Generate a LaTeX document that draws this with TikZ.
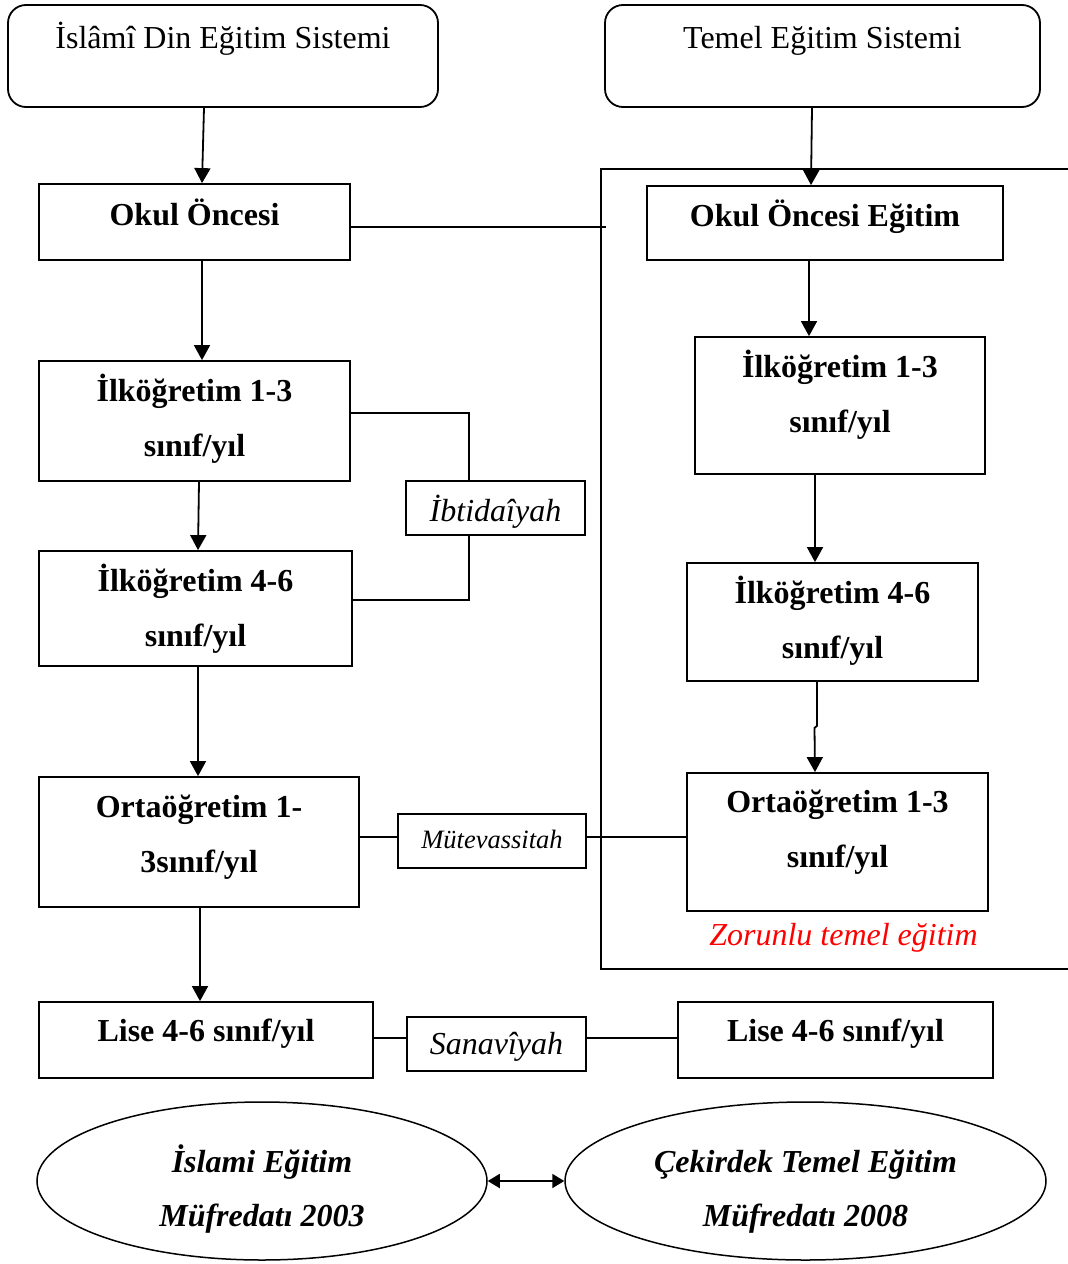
\documentclass[tikz,border=0pt]{standalone}
\usepackage{fontspec}
\setmainfont{Liberation Serif}
\usetikzlibrary{arrows.meta,shapes.geometric}
\newcommand{\twoln}[2]{\begin{tabular}[t]{@{}c@{}}#1\\#2\end{tabular}}
\begin{document}
\begin{tikzpicture}[x=1pt,y=-1pt,
  bx/.style={draw,line width=1.8pt,inner sep=0pt},
  rbx/.style={bx,rounded corners=18pt},
  ell/.style={draw,ellipse,line width=1.5pt,inner sep=0pt},
  bt/.style={font=\fontsize{32}{55}\selectfont\bfseries,anchor=base,inner sep=0pt},
  rt/.style={font=\fontsize{32}{55}\selectfont,anchor=base,inner sep=0pt},
  it/.style={font=\fontsize{32}{55}\selectfont\itshape,anchor=base,inner sep=0pt},
  bit/.style={font=\fontsize{32}{54}\selectfont\bfseries\itshape,anchor=base,inner sep=0pt},
  ln/.style={line width=1.8pt},
  arr/.style={ln,-{Triangle[length=15pt,width=16pt]}},
  darr/.style={ln,{Triangle[length=12pt,width=14pt]}-{Triangle[length=12pt,width=14pt]}}
]
\useasboundingbox (0,0) rectangle (1068,1264);

% frame of compulsory education
\draw[ln] (1069,169) -- (601,169) -- (601,969) -- (1069,969);
\coordinate (fr) at (606,227);

% left column
\node[rbx,minimum width=430pt,minimum height=102pt] (A) at (223,56) {};
\node[rt] (At) at ([yshift=-44pt]A.north) {İslâmî Din Eğitim Sistemi};
\node[bx,minimum width=311pt,minimum height=76pt] (B) at (194.5,222) {};
\node[bt] (Bt) at ([yshift=-42pt]B.north) {Okul Öncesi};
\node[bx,minimum width=311pt,minimum height=120pt] (C) at (194.5,421) {};
\node[bt] (Ct) at ([yshift=-41pt]C.north) {\twoln{İlköğretim 1-3}{sınıf/yıl}};
\node[bx,minimum width=313pt,minimum height=115pt] (D) at (195.5,608.5) {};
\node[bt] (Dt) at ([yshift=-41pt]D.north) {\twoln{İlköğretim 4-6}{sınıf/yıl}};
\node[bx,minimum width=320pt,minimum height=130pt] (E) at (199,842) {};
\node[bt] (Et) at ([yshift=-41pt]E.north) {\twoln{Ortaöğretim 1-}{3sınıf/yıl}};
\node[bx,minimum width=334pt,minimum height=76pt] (F) at (206,1040) {};
\node[bt] (Ft) at ([yshift=-40pt]F.north) {Lise 4-6 sınıf/yıl};

% right column
\node[rbx,minimum width=435pt,minimum height=102pt] (G) at (822.5,56) {};
\node[rt] (Gt) at ([yshift=-44pt]G.north) {Temel Eğitim Sistemi};
\node[bx,minimum width=356pt,minimum height=74pt] (H) at (825,223) {};
\node[bt] (Ht) at ([yshift=-41pt]H.north) {Okul Öncesi Eğitim};
\node[bx,minimum width=290pt,minimum height=137pt] (I) at (840,405.5) {};
\node[bt] (It) at ([yshift=-41pt]I.north) {\twoln{İlköğretim 1-3}{sınıf/yıl}};
\node[bx,minimum width=291pt,minimum height=118pt] (J) at (832.5,622) {};
\node[bt] (Jt) at ([yshift=-41pt]J.north) {\twoln{İlköğretim 4-6}{sınıf/yıl}};
\node[bx,minimum width=301pt,minimum height=138pt] (K) at (837.5,842) {};
\node[bt] (Kt) at ([yshift=-40pt]K.north) {\twoln{Ortaöğretim 1-3}{sınıf/yıl}};
\node[bx,minimum width=315pt,minimum height=76pt] (L) at (835.5,1040) {};
\node[bt] (Lt) at ([yshift=-40pt]L.north) {Lise 4-6 sınıf/yıl};
\node[it,text=red] (Z) at (843.5,945) {Zorunlu temel eğitim};

% middle labels
\node[bx,minimum width=179pt,minimum height=54pt] (Ib) at (495.5,508) {};
\node[it] (Ibt) at ([yshift=-41pt]Ib.north) {İbtidaîyah};
\node[bx,minimum width=188pt,minimum height=54pt] (Mu) at (492,841) {};
\node[it,font=\fontsize{26.5}{30}\selectfont\itshape] (Mut) at ([yshift=-35pt]Mu.north) {Mütevassitah};
\node[bx,minimum width=179pt,minimum height=54pt] (Sa) at (496.5,1044) {};
\node[it] (Sat) at ([yshift=-38pt]Sa.north) {Sanavîyah};

% curricula
\node[ell,minimum width=450pt,minimum height=158pt] (EL) at (262,1181) {};
\node[bit] (ELt) at ([yshift=9pt]EL.center) {\twoln{İslami Eğitim}{Müfredatı 2003}};
\node[ell,minimum width=481pt,minimum height=158pt] (ER) at (805.5,1181) {};
\node[bit] (ERt) at ([yshift=9pt]ER.center) {\twoln{Çekirdek Temel Eğitim}{Müfredatı 2008}};

% arrows left
\draw[arr] ([xshift=-19pt]A.south) -- ([xshift=7.5pt]B.north);
\draw[arr] ([xshift=7.5pt]B.south) -- ([xshift=7.5pt]C.north);
\draw[arr] ([xshift=4.5pt]C.south) -- ([xshift=2.5pt]D.north);
\draw[arr] ([xshift=2.5pt]D.south) -- ([xshift=-1pt]E.north);
\draw[arr] ([xshift=1pt]E.south) -- ([xshift=-6pt]F.north);
% arrows right
\draw[arr] ([xshift=-10.5pt]G.south) -- ([xshift=-14pt]H.north);
\draw[arr] ([xshift=-16pt]H.south) -- ([xshift=-31pt]I.north);
\draw[arr] ([xshift=-25pt]I.south) -- ([xshift=-17.5pt]J.north);
\draw[arr] ([xshift=-15.5pt]J.south) -- ++(0,44) -- ++(-2.5,2) -- ([xshift=-22.5pt]K.north);

% plain connectors
\draw[ln] ([yshift=-5pt]B.east) -- (fr);
\draw[ln] ([yshift=8pt]C.east) -| ([xshift=-26.5pt]Ib.north);
\draw[ln] ([xshift=-26.5pt]Ib.south) |- ([yshift=8.5pt]D.east);
\draw[ln] ([yshift=5pt]E.east) -- ([yshift=5pt]E.east -| Mu.west);
\draw[ln] ([yshift=5pt]K.west) -- ([yshift=5pt]K.west -| Mu.east);
\draw[ln] ([yshift=2pt]F.east) -- ([yshift=2pt]F.east -| Sa.west);
\draw[ln] ([yshift=2pt]L.west) -- ([yshift=2pt]L.west -| Sa.east);
\draw[darr] (EL.east) -- (ER.west);
\end{tikzpicture}
\end{document}
